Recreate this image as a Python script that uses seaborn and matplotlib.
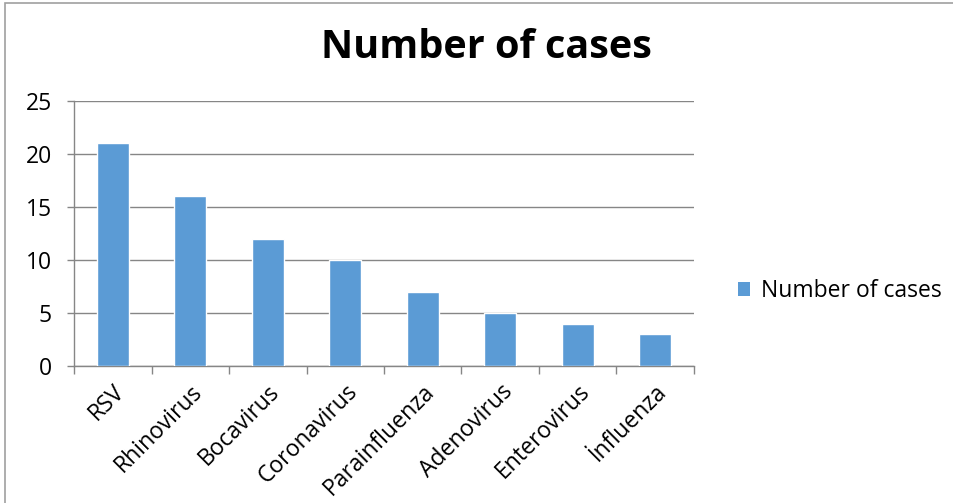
import matplotlib
matplotlib.use("Agg")
import matplotlib.pyplot as plt
import seaborn as sns
import pandas as pd
from matplotlib.patches import Patch, Rectangle

viruses = ["RSV", "Rhinovirus", "Bocavirus", "Coronavirus", "Parainfluenza",
           "Adenovirus", "Enterovirus", "İnfluenza"]
cases = [21, 16, 12, 10, 7, 5, 4, 3]
series_name = "Number of cases"

df = pd.DataFrame({"virus": viruses, "cases": cases})

sns.set_style("white")
plt.rcParams["font.family"] = ["Open Sans", "DejaVu Sans"]
plt.rcParams["text.color"] = "black"
plt.rcParams["xtick.color"] = "black"
plt.rcParams["ytick.color"] = "black"

fig = plt.figure(figsize=(9.54, 5.03), dpi=100)
ax = fig.add_axes([74 / 954, 1 - 366 / 503, 620 / 954, 265 / 503])

bar_color = "#5B9BD5"
sns.barplot(data=df, x="virus", y="cases", color=bar_color, width=0.41,
            saturation=1, ax=ax, zorder=3)

ax.set_xlim(-0.5, len(viruses) - 0.5)
ax.set_ylim(0, 25)
ax.set_yticks(range(0, 26, 5))
ax.set_xlabel("")
ax.set_ylabel("")

ax.yaxis.grid(True, color="#868686", linewidth=1.0, zorder=0)
ax.xaxis.grid(False)
for side in ("top", "right"):
    ax.spines[side].set_visible(False)
for side in ("left", "bottom"):
    ax.spines[side].set_color("#868686")
    ax.spines[side].set_linewidth(1.0)

ax.tick_params(axis="y", length=5, width=1, color="#868686", direction="out",
               labelsize=16.5, labelcolor="black", pad=11, left=True)
ax.set_xticks([i for i in range(len(viruses))])
ax.set_xticklabels(viruses, rotation=45, ha="right", rotation_mode="anchor",
                   fontsize=16.5, color="black")
ax.tick_params(axis="x", length=0, pad=10)
# category separators below the axis
ax.set_xticks([i - 0.5 for i in range(len(viruses) + 1)], minor=True)
ax.tick_params(axis="x", which="minor", length=6, width=1, color="#868686",
               direction="out", bottom=True)

fig.text(486 / 954, 1 - 48 / 503, "Number of cases", ha="center", va="center",
         fontsize=28.5, fontweight="bold", color="black")

leg = fig.legend(handles=[Patch(facecolor=bar_color, edgecolor="none",
                                label=series_name)],
                 loc="center left", bbox_to_anchor=(717 / 954, 1 - 291 / 503),
                 frameon=False, fontsize=16.5, handlelength=0.55, handleheight=0.55,
                 handletextpad=0.45)
for t in leg.get_texts():
    t.set_color("black")

# chart frame
fig.patches.append(Rectangle((5 / 954, -0.02), 1.1, 1 - 3 / 503 + 0.02,
                             transform=fig.transFigure, fill=False,
                             edgecolor="#A0A0A0", linewidth=1.2))

fig.savefig("out.png", dpi=100)
